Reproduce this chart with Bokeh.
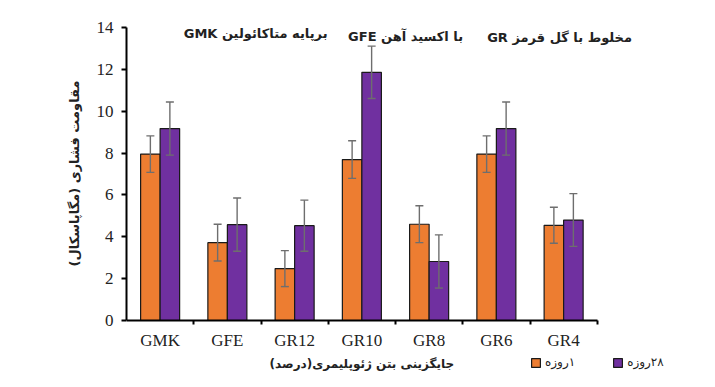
from bokeh.plotting import figure
from bokeh.models import (Range1d, LinearAxis, FixedTicker, ColumnDataSource, Whisker, TeeHead,
                          Legend, LegendItem, Label)
from bokeh.embed import file_html
from bokeh.resources import INLINE

# ---- data ----
categories = ["GMK", "GFE", "GR12", "GR10", "GR8", "GR6", "GR4"]
day1 = [7.95, 3.72, 2.48, 7.69, 4.60, 7.95, 4.55]
day28 = [9.17, 4.58, 4.53, 11.86, 2.82, 9.17, 4.80]
err1 = [0.87, 0.88, 0.86, 0.90, 0.88, 0.87, 0.86]
err28 = [1.27, 1.27, 1.22, 1.25, 1.27, 1.27, 1.26]
y_ticks = [0, 2, 4, 6, 8, 10, 12, 14]
series_names = ["۱روزه", "۲۸روزه"]
group_notes = ["برپایه متاکائولین GMK", "با اکسید آهن GFE", "مخلوط با گل قرمز GR"]
note_x = [1.92, 4.15, 6.44]
note_y = [13.70, 13.58, 13.50]
y_title = "مقاومت فشاری (مگاپاسکال)"
x_title = "جایگزینی بتن ژئوپلیمری(درصد)"

ORANGE = "#ED7D31"
PURPLE = "#7030A0"
FA = "DejaVu Sans"
SERIF = "Liberation Serif"


def rtl(s):
    return "\u202B" + s + "\u202C"


n = len(categories)
centers = [i + 0.5 for i in range(n)]
bw = 0.29
x1 = [c - bw / 2 for c in centers]
x2 = [c + bw / 2 for c in centers]

src1 = ColumnDataSource(dict(x=x1, top=day1, upper=[v + e for v, e in zip(day1, err1)],
                             lower=[v - e for v, e in zip(day1, err1)]))
src2 = ColumnDataSource(dict(x=x2, top=day28, upper=[v + e for v, e in zip(day28, err28)],
                             lower=[v - e for v, e in zip(day28, err28)]))

# frame: 126..664 px wide, 27..371 px high; value 0 sits at 320 px, 14 at 27 px
y_lo = -51 / (293 / 14)
p = figure(width=699, height=371, x_range=Range1d(0, n + 1), y_range=Range1d(y_lo, 14),
           output_backend="svg", toolbar_location=None,
           x_axis_type=None, y_axis_type=None,
           min_border_left=126, min_border_right=35, min_border_top=27, min_border_bottom=0)
p.grid.visible = False
p.outline_line_color = None
p.background_fill_color = "white"
p.border_fill_color = "white"

r1 = p.vbar(x="x", top="top", bottom=0, width=bw, source=src1, fill_color=ORANGE, line_color="#1a1a1a", line_width=1.2)
r2 = p.vbar(x="x", top="top", bottom=0, width=bw, source=src2, fill_color=PURPLE, line_color="#1a1a1a", line_width=1.2)

for src in (src1, src2):
    w = Whisker(source=src, base="x", upper="upper", lower="lower", line_color="#6e6e6e", line_width=1.4,
                upper_head=TeeHead(size=8, line_color="#6e6e6e", line_width=1.4),
                lower_head=TeeHead(size=8, line_color="#6e6e6e", line_width=1.4),
                level="annotation")
    p.add_layout(w)

# x axis drawn at value 0
xax = LinearAxis(ticker=FixedTicker(ticks=centers, minor_ticks=list(range(1, n + 1))),
                 bounds=(0, n), fixed_location=0)
xax.major_label_overrides = {c: lab for c, lab in zip(centers, categories)}
xax.major_tick_line_color = None
xax.major_tick_out = 0
xax.major_tick_in = 0
xax.minor_tick_out = 4
xax.minor_tick_in = 0
xax.minor_tick_line_color = "black"
xax.minor_tick_line_width = 2
xax.axis_line_color = "black"
xax.axis_line_width = 2
xax.major_label_text_font = SERIF
xax.major_label_text_font_size = "17px"
xax.major_label_text_color = "#222222"
xax.major_label_standoff = 6
p.add_layout(xax, "below")

# y axis
yax = LinearAxis(ticker=FixedTicker(ticks=y_ticks, minor_ticks=[]), bounds=(0, 14))
yax.major_tick_out = 5
yax.major_tick_in = 0
yax.major_tick_line_width = 2
yax.major_tick_line_color = "black"
yax.axis_line_color = "black"
yax.axis_line_width = 2
yax.major_label_text_font = SERIF
yax.major_label_text_font_size = "17px"
yax.major_label_text_color = "#222222"
yax.major_label_standoff = 8
# leading spaces lift the rotated title so it is centred on the 0..14 part of the axis
yax.axis_label = "\u2003\u2003\u2003\u2003" + rtl(y_title)
yax.axis_label_text_font = FA
yax.axis_label_text_font_size = "13px"
yax.axis_label_text_font_style = "bold"
yax.axis_label_text_color = "#222222"
yax.axis_label_standoff = 12
p.add_layout(yax, "left")

for t, xx, yy in zip(group_notes, note_x, note_y):
    p.add_layout(Label(x=xx, y=yy, text=rtl(t), text_font=FA, text_font_size="13px",
                       text_font_style="bold", text_color="#222222",
                       text_align="center", text_baseline="middle"))

p.add_layout(Label(x=n / 2, y=-2.1, text=rtl(x_title), text_font=FA, text_font_size="12px",
                   text_font_style="bold", text_color="#222222",
                   text_align="center", text_baseline="middle"))

legend = Legend(items=[LegendItem(label=rtl(series_names[0]), renderers=[r1]),
                       LegendItem(label=rtl(series_names[1]), renderers=[r2])],
                location=(404, 2), orientation="horizontal",
                glyph_width=11, glyph_height=11, label_height=11, label_standoff=4, spacing=37,
                padding=0, margin=0, border_line_color=None, background_fill_alpha=0,
                label_text_font=FA, label_text_font_size="12px",
                label_text_color="#222222")
p.add_layout(legend)

open("out.html", "w").write(file_html(p, INLINE))
